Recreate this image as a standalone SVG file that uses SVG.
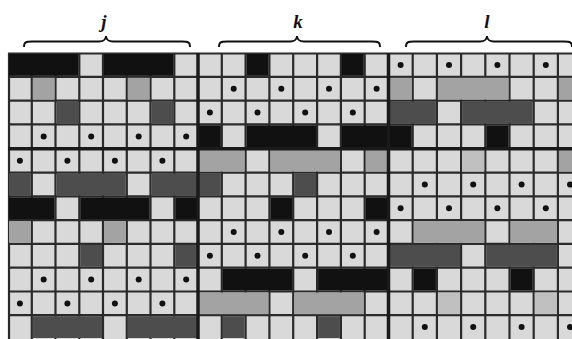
<svg xmlns="http://www.w3.org/2000/svg" width="572" height="339" viewBox="0 0 572 339">
<style>
.L{fill:#d9d9d9}.G{fill:#a3a3a3}.g{fill:#c0c0c0}.D{fill:#4d4d4d}.B{fill:#111}
.ln{stroke:#2a2a2a;stroke-width:2.2}.tk{stroke:#1a1a1a;stroke-width:3.5}
.dot{fill:#111}
.br{fill:none;stroke:#111;stroke-width:1.9}
.lab{font-family:"Liberation Serif","DejaVu Serif",serif;font-style:italic;font-weight:bold;font-size:19px;fill:#111;text-anchor:middle}
</style>
<rect width="572" height="339" fill="#fff"/>
<g id="labels">
<path class="br" d="M24,47 C24,42 26,41.5 32,41.5 L99,41.5 C104,41.5 105.5,40 106,36 C106.5,40 108,41.5 113,41.5 L182,41.5 C188,41.5 190,42 190,47"/>
<path class="br" d="M219,47 C219,42 221,41.5 227,41.5 L290,41.5 C295,41.5 296.5,40 297,36 C297.5,40 299,41.5 304,41.5 L372,41.5 C378,41.5 380,42 380,47"/>
<path class="br" d="M406,47 C406,42 408,41.5 414,41.5 L480,41.5 C485,41.5 486.5,40 487,36 C487.5,40 489,41.5 494,41.5 L564,41.5 C570,41.5 572,42 572,47"/>
<text class="lab" x="104" y="28">j</text>
<text class="lab" x="298" y="28">k</text>
<text class="lab" x="487" y="28">l</text>
</g>
<rect class="L" x="8" y="53" width="574" height="286"/>
<g id="thin-lines" class="ln">
<line x1="9" y1="53" x2="9" y2="339"/>
<line x1="31.8" y1="53" x2="31.8" y2="339"/><line x1="55.5" y1="53" x2="55.5" y2="339"/><line x1="79.3" y1="53" x2="79.3" y2="339"/><line x1="103" y1="53" x2="103" y2="339"/><line x1="126.8" y1="53" x2="126.8" y2="339"/><line x1="150.5" y1="53" x2="150.5" y2="339"/><line x1="174.3" y1="53" x2="174.3" y2="339"/>
<line x1="221.8" y1="53" x2="221.8" y2="339"/><line x1="245.6" y1="53" x2="245.6" y2="339"/><line x1="269.4" y1="53" x2="269.4" y2="339"/><line x1="293.2" y1="53" x2="293.2" y2="339"/><line x1="317.1" y1="53" x2="317.1" y2="339"/><line x1="340.9" y1="53" x2="340.9" y2="339"/><line x1="364.7" y1="53" x2="364.7" y2="339"/>
<line x1="412.7" y1="53" x2="412.7" y2="339"/><line x1="436.9" y1="53" x2="436.9" y2="339"/><line x1="461.1" y1="53" x2="461.1" y2="339"/><line x1="485.3" y1="53" x2="485.3" y2="339"/><line x1="509.5" y1="53" x2="509.5" y2="339"/><line x1="533.7" y1="53" x2="533.7" y2="339"/><line x1="557.9" y1="53" x2="557.9" y2="339"/>
<line x1="8" y1="53.5" x2="572" y2="53.5"/>
<line x1="8" y1="76.8" x2="572" y2="76.8"/><line x1="8" y1="100.6" x2="572" y2="100.6"/><line x1="8" y1="124.4" x2="572" y2="124.4"/>
<line x1="8" y1="172.6" x2="572" y2="172.6"/><line x1="8" y1="196.4" x2="572" y2="196.4"/><line x1="8" y1="220.1" x2="572" y2="220.1"/><line x1="8" y1="243.9" x2="572" y2="243.9"/><line x1="8" y1="267.7" x2="572" y2="267.7"/><line x1="8" y1="291.5" x2="572" y2="291.5"/><line x1="8" y1="315.2" x2="572" y2="315.2"/>
</g>
<g id="cells">
<g id="r0" transform="translate(0,53)">
<rect class="B" x="9" y="1" width="69.3" height="21.8"/><rect class="B" x="104" y="1" width="69.3" height="21.8"/>
<rect class="B" x="246.6" y="1" width="21.8" height="21.8"/><rect class="B" x="341.9" y="1" width="21.8" height="21.8"/>
</g>
<g id="r1" transform="translate(0,76.8)">
<rect class="G" x="32.8" y="1" width="21.7" height="21.8"/><rect class="G" x="127.8" y="1" width="21.7" height="21.8"/>
<rect class="G" x="389.5" y="1" width="22.2" height="21.8"/><rect class="G" x="437.9" y="1" width="70.6" height="21.8"/><rect class="G" x="558.9" y="1" width="22.2" height="21.8"/>
</g>
<g id="r2" transform="translate(0,100.6)">
<rect class="D" x="56.5" y="1" width="21.8" height="21.8"/><rect class="D" x="151.5" y="1" width="21.8" height="21.8"/>
<rect class="D" x="389.5" y="1" width="46.4" height="21.8"/><rect class="D" x="462.1" y="1" width="70.6" height="21.8"/>
</g>
<g id="r3" transform="translate(0,124.4)">
<rect class="B" x="199" y="1" width="21.8" height="22.4"/><rect class="B" x="246.6" y="1" width="69.5" height="22.4"/><rect class="B" x="341.9" y="1" width="69.8" height="22.4"/>
<rect class="B" x="486.3" y="1" width="22.2" height="22.4"/>
</g>
<g id="r4" transform="translate(0,148.8)">
<rect class="G" x="199" y="1" width="45.6" height="21.8"/><rect class="G" x="270.4" y="1" width="69.5" height="21.8"/><rect class="G" x="365.7" y="1" width="21.8" height="21.8"/>
<rect class="g" x="462.1" y="1" width="22.2" height="21.8"/><rect class="G" x="558.9" y="1" width="22.2" height="21.8"/>
</g>
<g id="r5" transform="translate(0,172.6)">
<rect class="D" x="9" y="1" width="21.8" height="21.8"/><rect class="D" x="56.5" y="1" width="69.3" height="21.8"/><rect class="D" x="151.5" y="1" width="45.5" height="21.8"/>
<rect class="D" x="199" y="1" width="21.8" height="21.8"/><rect class="D" x="294.2" y="1" width="21.9" height="21.8"/>
</g>
<g id="r6" transform="translate(0,196.4)">
<rect class="B" x="9" y="1" width="45.5" height="21.7"/><rect class="B" x="80.3" y="1" width="69.2" height="21.7"/><rect class="B" x="175.3" y="1" width="21.7" height="21.7"/>
<rect class="B" x="270.4" y="1" width="21.8" height="21.7"/><rect class="B" x="365.7" y="1" width="21.8" height="21.7"/>
</g>
<g id="r7" transform="translate(0,220.1)">
<rect class="G" x="9" y="1" width="21.8" height="21.8"/><rect class="G" x="104" y="1" width="21.8" height="21.8"/>
<rect class="G" x="413.7" y="1" width="70.6" height="21.8"/><rect class="G" x="510.5" y="1" width="46.4" height="21.8"/>
</g>
<g id="r8" transform="translate(0,243.9)">
<rect class="D" x="80.3" y="1" width="21.7" height="21.8"/><rect class="D" x="175.3" y="1" width="21.7" height="21.8"/>
<rect class="D" x="389.5" y="1" width="70.6" height="21.8"/><rect class="D" x="486.3" y="1" width="70.6" height="21.8"/>
</g>
<g id="r9" transform="translate(0,267.7)">
<rect class="B" x="222.8" y="1" width="69.4" height="21.8"/><rect class="B" x="318.1" y="1" width="69.4" height="21.8"/>
<rect class="B" x="413.7" y="1" width="22.2" height="21.8"/><rect class="B" x="510.5" y="1" width="22.2" height="21.8"/>
</g>
<g id="r10" transform="translate(0,291.5)">
<rect class="G" x="199" y="1" width="69.4" height="21.7"/><rect class="G" x="294.2" y="1" width="69.5" height="21.7"/>
<rect class="g" x="437.9" y="1" width="22.2" height="21.7"/><rect class="g" x="534.7" y="1" width="22.2" height="21.7"/>
</g>
<g id="r11" transform="translate(0,315.2)">
<rect class="D" x="32.8" y="1" width="69.2" height="21.8"/><rect class="D" x="127.8" y="1" width="69.2" height="21.8"/>
<rect class="D" x="222.8" y="1" width="21.8" height="21.8"/><rect class="D" x="318.1" y="1" width="21.8" height="21.8"/>
</g>
</g>
<g id="thick-lines" class="tk">
<line x1="198" y1="53" x2="198" y2="339"/>
<line x1="388.5" y1="53" x2="388.5" y2="339"/>
<line x1="8" y1="148.8" x2="572" y2="148.8"/>
</g>
<g id="dots" class="dot">
<g transform="translate(0,64.9)"><circle cx="400.6" cy="0" r="3"/><circle cx="449" cy="0" r="3"/><circle cx="497.4" cy="0" r="3"/><circle cx="545.8" cy="0" r="3"/></g>
<g transform="translate(0,88.7)"><circle cx="233.7" cy="0" r="3"/><circle cx="281.3" cy="0" r="3"/><circle cx="329" cy="0" r="3"/><circle cx="376.6" cy="0" r="3"/></g>
<g transform="translate(0,112.5)"><circle cx="209.9" cy="0" r="3"/><circle cx="257.5" cy="0" r="3"/><circle cx="305.2" cy="0" r="3"/><circle cx="352.8" cy="0" r="3"/></g>
<g transform="translate(0,136.6)"><circle cx="43.7" cy="0" r="3"/><circle cx="91.2" cy="0" r="3"/><circle cx="138.7" cy="0" r="3"/><circle cx="186.2" cy="0" r="3"/></g>
<g transform="translate(0,160.7)"><circle cx="19.9" cy="0" r="3"/><circle cx="67.4" cy="0" r="3"/><circle cx="114.9" cy="0" r="3"/><circle cx="162.4" cy="0" r="3"/></g>
<g transform="translate(0,184.5)"><circle cx="424.8" cy="0" r="3"/><circle cx="473.2" cy="0" r="3"/><circle cx="521.6" cy="0" r="3"/><circle cx="570" cy="0" r="3"/></g>
<g transform="translate(0,208.3)"><circle cx="400.6" cy="0" r="3"/><circle cx="449" cy="0" r="3"/><circle cx="497.4" cy="0" r="3"/><circle cx="545.8" cy="0" r="3"/></g>
<g transform="translate(0,232)"><circle cx="233.7" cy="0" r="3"/><circle cx="281.3" cy="0" r="3"/><circle cx="329" cy="0" r="3"/><circle cx="376.6" cy="0" r="3"/></g>
<g transform="translate(0,255.8)"><circle cx="209.9" cy="0" r="3"/><circle cx="257.5" cy="0" r="3"/><circle cx="305.2" cy="0" r="3"/><circle cx="352.8" cy="0" r="3"/></g>
<g transform="translate(0,279.6)"><circle cx="43.7" cy="0" r="3"/><circle cx="91.2" cy="0" r="3"/><circle cx="138.7" cy="0" r="3"/><circle cx="186.2" cy="0" r="3"/></g>
<g transform="translate(0,303.4)"><circle cx="19.9" cy="0" r="3"/><circle cx="67.4" cy="0" r="3"/><circle cx="114.9" cy="0" r="3"/><circle cx="162.4" cy="0" r="3"/></g>
<g transform="translate(0,327.1)"><circle cx="424.8" cy="0" r="3"/><circle cx="473.2" cy="0" r="3"/><circle cx="521.6" cy="0" r="3"/><circle cx="570" cy="0" r="3"/></g>
</g>
</svg>
